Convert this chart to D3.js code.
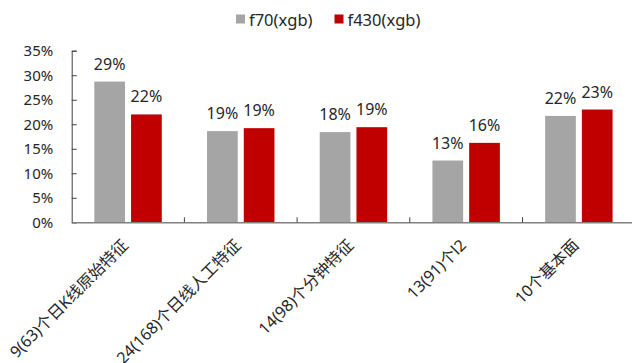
<!DOCTYPE html>
<html lang="zh">
<head>
<meta charset="UTF-8">
<title>f70 vs f430</title>
<script src="https://d3js.org/d3.v7.min.js"></script>
<style>
  body { margin: 0; background: #fff; }
  svg text { font-family: "Noto Sans", "Noto Sans CJK SC", sans-serif; fill: #262626; }
</style>
</head>
<body>
<script>
// chart data
var categories = ["9(63)个日K线原始特征", "24(168)个日线人工特征", "14(98)个分钟特征", "13(91)个l2", "10个基本面"];
var seriesNames = ["f70(xgb)", "f430(xgb)"];
var f70 = [0.287, 0.186, 0.184, 0.126, 0.217];
var f430 = [0.220, 0.192, 0.194, 0.162, 0.230];
var yTicks = [0, 0.05, 0.10, 0.15, 0.20, 0.25, 0.30, 0.35];
var colors = ["#a5a5a5", "#c00000"];

var width = 632, height = 363;
var plotLeft = 71.7, plotRight = 635.2, plotTop = 50.7, plotBottom = 222.3;

var svg = d3.select("body").append("svg")
    .attr("width", width)
    .attr("height", height);

var x0 = d3.scaleBand().domain(categories).range([plotLeft, plotRight]);
var x1 = d3.scaleBand().domain(seriesNames).range([0, x0.bandwidth()])
    .paddingInner(0.164).paddingOuter(0.616);
var y = d3.scaleLinear().domain([0, 0.35]).range([plotBottom, plotTop]);

var rows = categories.map(function(c, i) {
  return { cat: c, vals: [f70[i], f430[i]] };
});

// y axis
var yAxis = svg.append("g")
    .attr("transform", "translate(" + plotLeft + ",0)")
    .call(d3.axisLeft(y).tickValues(yTicks).tickSize(-5).tickPadding(18.5)
      .tickFormat(d3.format(".0%")));
yAxis.selectAll("path, line").attr("stroke", "#404040");
yAxis.selectAll("text").attr("font-size", 15).style("font-family", "Noto Sans").attr("fill", "#262626");

// bars
var groups = svg.append("g").selectAll("g")
    .data(rows).enter().append("g")
    .attr("transform", function(d) { return "translate(" + x0(d.cat) + ",0)"; });

groups.selectAll("rect")
    .data(function(d) { return d.vals.map(function(v, j) { return { s: seriesNames[j], v: v, j: j }; }); })
    .enter().append("rect")
    .attr("x", function(d) { return x1(d.s); })
    .attr("y", function(d) { return y(d.v); })
    .attr("width", x1.bandwidth())
    .attr("height", function(d) { return plotBottom - y(d.v); })
    .attr("fill", function(d) { return colors[d.j]; });

groups.selectAll("text.val")
    .data(function(d) { return d.vals.map(function(v, j) { return { s: seriesNames[j], v: v }; }); })
    .enter().append("text")
    .attr("class", "val")
    .attr("x", function(d) { return x1(d.s) + x1.bandwidth() / 2; })
    .attr("y", function(d) { return y(d.v) - 12; })
    .attr("text-anchor", "middle")
    .attr("font-size", 16)
    .text(function(d) { return d3.format(".0%")(d.v); });

// x axis
var xAxis = svg.append("g")
    .attr("transform", "translate(0," + plotBottom + ")")
    .call(d3.axisBottom(x0).tickSize(0).tickFormat(""));
xAxis.select(".domain").attr("stroke", "#808080").attr("stroke-width", 1.5);
xAxis.selectAll(".tick").remove();

svg.append("g").selectAll("line")
    .data(categories.slice(1))
    .enter().append("line")
    .attr("x1", function(d) { return x0(d); })
    .attr("x2", function(d) { return x0(d); })
    .attr("y1", plotBottom)
    .attr("y2", plotBottom - 5)
    .attr("stroke", "#404040");

// category labels
svg.append("g").selectAll("text")
    .data(categories)
    .enter().append("text")
    .attr("transform", function(d) {
      return "translate(" + (x0(d) + x0.bandwidth() / 2 + 1) + "," + (plotBottom + 24) + ") rotate(-45)";
    })
    .attr("text-anchor", "end")
    .attr("font-size", 16)
    .text(function(d) { return d; });

// legend
var legend = svg.append("g");
var legendX = [236, 334.5];
seriesNames.forEach(function(s, i) {
  legend.append("rect")
    .attr("x", legendX[i]).attr("y", 14.5)
    .attr("width", 9).attr("height", 9)
    .attr("fill", colors[i]);
  legend.append("text")
    .attr("x", legendX[i] + 13).attr("y", 25.5)
    .attr("font-size", 16.5)
    .text(s);
});
</script>
</body>
</html>
